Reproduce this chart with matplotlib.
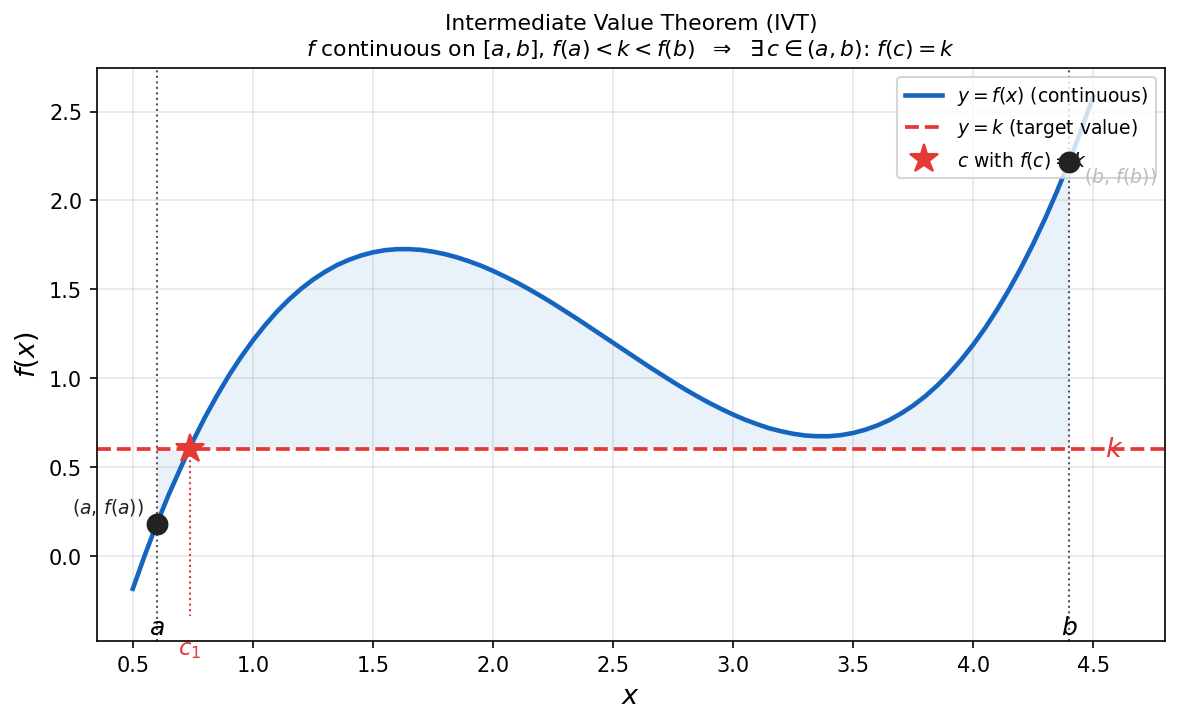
import numpy as np
import matplotlib.pyplot as plt

# valores (paso 0.05)
x_vals = [0.5, 0.55, 0.6, 0.65, 0.7, 0.75, 0.8, 0.85, 0.9, 0.95,
          1.0, 1.05, 1.1, 1.15, 1.2, 1.25, 1.3, 1.35, 1.4, 1.45,
          1.5, 1.55, 1.6, 1.65, 1.7, 1.75, 1.8, 1.85, 1.9, 1.95,
          2.0, 2.05, 2.1, 2.15, 2.2, 2.25, 2.3, 2.35, 2.4, 2.45,
          2.5, 2.55, 2.6, 2.65, 2.7, 2.75, 2.8, 2.85, 2.9, 2.95,
          3.0, 3.05, 3.1, 3.15, 3.2, 3.25, 3.3, 3.35, 3.4, 3.45,
          3.5, 3.55, 3.6, 3.65, 3.7, 3.75, 3.8, 3.85, 3.9, 3.95,
          4.0, 4.05, 4.1, 4.15, 4.2, 4.25, 4.3, 4.35, 4.4, 4.45, 4.5]
f_vals = [-0.184, 0.005, 0.182, 0.347, 0.498, 0.645, 0.779, 0.901, 1.015, 1.118,
          1.212, 1.297, 1.374, 1.442, 1.502, 1.554, 1.598, 1.636, 1.666, 1.690,
          1.708, 1.720, 1.726, 1.726, 1.722, 1.712, 1.698, 1.680, 1.658, 1.633,
          1.604, 1.572, 1.538, 1.501, 1.462, 1.421, 1.378, 1.335, 1.290, 1.245,
          1.200, 1.155, 1.110, 1.065, 1.022, 0.979, 0.938, 0.899, 0.862, 0.828,
          0.796, 0.767, 0.742, 0.719, 0.702, 0.688, 0.678, 0.674, 0.674, 0.680,
          0.692, 0.710, 0.734, 0.764, 0.802, 0.846, 0.898, 0.958, 1.026, 1.103,
          1.188, 1.282, 1.386, 1.499, 1.622, 1.755, 1.898, 2.053, 2.218, 2.395, 2.584]

a = 0.6
b = 4.4
fa = 0.182
fb = 2.218
k = 0.6
c1 = 0.737

x = np.array(x_vals)
y = np.array(f_vals)

azul = '#1565C0'
rojo = '#E53935'

fig, ax = plt.subplots(figsize=(7.87, 4.83), dpi=150)
fig.subplots_adjust(left=0.082, right=0.987, top=0.906, bottom=0.1145)

ax.plot(x, y, color=azul, lw=2.2, label=r'$y=f(x)$ (continuous)', zorder=3)
ax.axhline(k, color=rojo, ls='--', lw=1.8, label=r'$y=k$ (target value)', zorder=2)

# region entre f y k en [a, b]
m = (x >= a - 1e-9) & (x <= b + 1e-9)
ax.fill_between(x[m], y[m], k, color=azul, alpha=0.09, lw=0, zorder=1)

# lineas verticales en a y b
ax.axvline(a, color='#555555', ls=':', lw=1.0, zorder=1)
ax.axvline(b, color='#555555', ls=':', lw=1.0, zorder=1)

ax.plot([c1, c1], [k, -0.337], color=rojo, ls=':', lw=1.0, zorder=2)
ax.plot([c1], [k], marker='*', color=rojo, ms=14, ls='none',
        label=r'$c$ with $f(c)=k$', zorder=6)

ax.plot([a, b], [fa, fb], 'o', color='#222222', ms=9.5, zorder=6)
ax.annotate(r'$(a,\,f(a))$', (a, fa), xytext=(-6, 3), textcoords='offset points',
            ha='right', va='bottom', fontsize=9, color='#222222')
ax.annotate(r'$(b,\,f(b))$', (b, fb), xytext=(7, -2), textcoords='offset points',
            ha='left', va='top', fontsize=9, color='#bbbbbb', zorder=6)

ax.text(a, -0.40, r'$a$', ha='center', va='center', fontsize=12)
ax.text(b, -0.40, r'$b$', ha='center', va='center', fontsize=12)
ax.text(c1, -0.522, r'$c_1$', ha='center', va='center', fontsize=11, color=rojo)
ax.text(4.59, k, r'$k$', ha='center', va='center', fontsize=13, color=rojo)

ax.set_xlim(0.35, 4.8)
ax.set_ylim(-0.478, 2.747)
ax.grid(True, alpha=0.3)
ax.set_xlabel(r'$x$', fontsize=13)
ax.set_ylabel(r'$f(x)$', fontsize=13)
ax.set_title('Intermediate Value Theorem (IVT)\n'
             r'$f$ continuous on $[a,b]$, $f(a)<k<f(b)$  $\Rightarrow$  $\exists\, c\in(a,b)$: $f(c)=k$',
             fontsize=10.5)
ax.legend(loc='upper right', fontsize=9)

plt.savefig('out.png', dpi=150)
